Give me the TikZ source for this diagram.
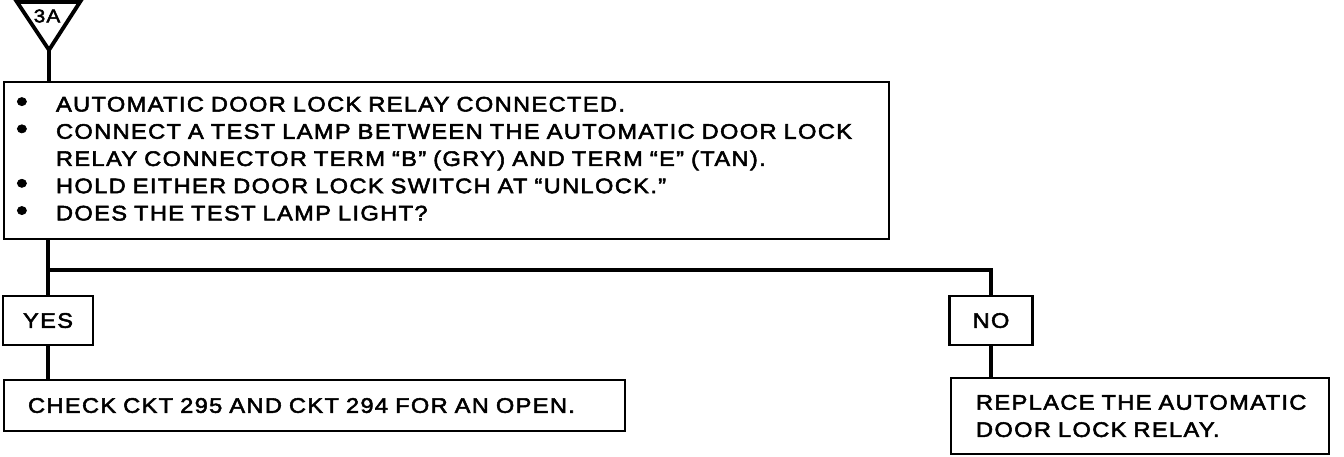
\documentclass[tikz,border=0pt]{standalone}
\usepackage{fontspec}
\setmainfont{Liberation Sans}[FakeStretch=1.12,LetterSpace=6.5,FakeBold=2.5]
\usetikzlibrary{positioning}

\begin{document}
\begin{tikzpicture}[
    x=0.02cm,
    y=-0.02cm,
    font=\fontsize{12}{15.5}\selectfont,
    block/.style={
        rectangle,
        draw,
        line width=1.2pt,
        align=left,
        anchor=north west,
        inner ysep=2pt
    },
    answer/.style={
        rectangle,
        draw,
        line width=1.2pt,
        minimum height=0.98cm,
        anchor=north
    },
    link/.style={
        draw,
        line width=2.8pt
    }
]
    \useasboundingbox (0,0) rectangle (1344,456);

    % --- Entry marker ---
    \coordinate (tl) at (17,2);
    \coordinate (tr) at (80,2);
    \coordinate (tip) at (49,50);
    \draw [line width=2.2pt] (tl) -- (tr) -- (tip) -- cycle;
    \node [font=\fontsize{10.5}{10.5}\selectfont] (tag) at (47,16) {3A};

    % --- Test step ---
    \node [block, text width=17.22cm, inner xsep=0.24cm, minimum height=3.14cm] (relay) at (3,81) {%
        \begin{tabular}{@{}p{0.8cm}@{}l@{}}
        {\fontsize{17}{15}\selectfont\textbullet} & AUTOMATIC DOOR LOCK RELAY CONNECTED.\\
        {\fontsize{17}{15}\selectfont\textbullet} & CONNECT A TEST LAMP BETWEEN THE AUTOMATIC DOOR LOCK\\
         & RELAY CONNECTOR TERM “B” (GRY) AND TERM “E” (TAN).\\
        {\fontsize{17}{15}\selectfont\textbullet} & HOLD EITHER DOOR LOCK SWITCH AT “UNLOCK.”\\
        {\fontsize{17}{15}\selectfont\textbullet} & DOES THE TEST LAMP LIGHT?
        \end{tabular}};

    % --- Answers ---
    \node [answer, minimum width=1.8cm] (yes) at (48,295) {YES};
    \node [answer, minimum width=1.66cm] (no) at (991,295) {NO};

    % --- Results ---
    \node [block, text width=11.46cm, inner xsep=0.48cm, minimum height=1.02cm] (ckt) at (3,379) {CHECK CKT 295 AND CKT 294 FOR AN OPEN.};
    \node [block, text width=6.56cm, inner xsep=0.5cm, minimum height=1.52cm] (replace) at (950,377) {REPLACE THE AUTOMATIC\\DOOR LOCK RELAY.};

    % --- Connections ---
    \coordinate (split) at (48,270);
    \path [link] (tip) -- (tip |- relay.north);
    \path [link] (relay.south -| yes.north) -- (yes.north);
    \path [link] (split) -| (no.north);
    \path [link] (yes.south) -- (yes.south |- ckt.north);
    \path [link] (no.south) -- (no.south |- replace.north);

\end{tikzpicture}
\end{document}
